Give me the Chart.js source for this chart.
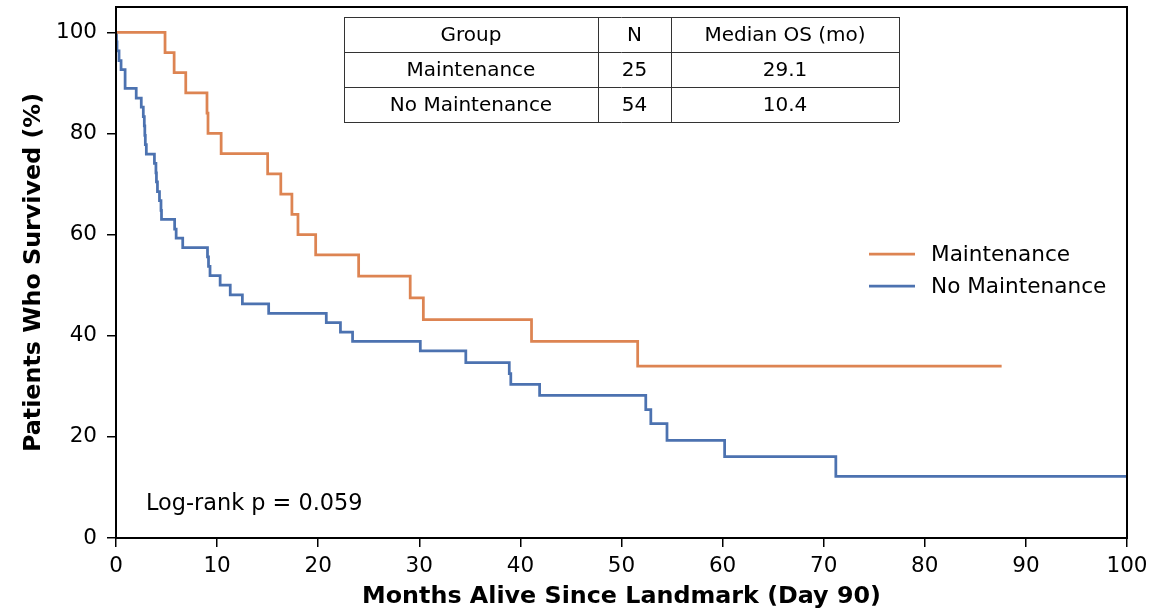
<!DOCTYPE html>
<html>
<head>
<meta charset="utf-8">
<script src="https://cdn.jsdelivr.net/npm/chart.js@4.4.1/dist/chart.umd.min.js"></script>
<style>
  html, body { margin: 0; padding: 0; background: #fff; }
  #wrap { width: 1175px; height: 611px; position: relative; }
</style>
</head>
<body>
<div id="wrap"><canvas id="kmChart"></canvas></div>
<script>
// Kaplan-Meier curves (months, % surviving)
const maintTimes = [0, 4.85, 5.75, 6.9, 9.0, 9.1, 10.4, 15.0, 16.3, 17.4, 18.0, 19.75, 24.0, 29.1, 30.4, 41.1, 51.6, 87.6];
const maintSurv  = [100, 96, 92, 88, 84, 80, 76, 72, 68, 64, 60, 56, 51.8, 47.5, 43.2, 38.9, 34.0, 34.0];

const noMaintTimes = [0, 0.05, 0.1, 0.3, 0.5, 0.9, 2.0, 2.5, 2.7, 2.8, 2.85, 2.9, 3.0, 3.8, 3.95, 4.0, 4.1, 4.3, 4.45, 4.5,
                      5.8, 5.95, 6.6, 9.05, 9.15, 9.3, 10.3, 11.3, 12.5, 15.1, 20.8, 22.2, 23.4, 30.1, 34.6, 38.9, 39.05,
                      41.9, 52.4, 52.9, 54.5, 60.2, 71.2, 100];
const noMaintSurv  = [100, 98.1, 96.3, 94.4, 92.6, 88.9, 87.0, 85.2, 83.3, 81.5, 79.6, 77.8, 75.9, 74.1, 72.2, 70.4, 68.5, 66.7, 64.8, 63.0,
                      61.1, 59.3, 57.4, 55.6, 53.7, 51.9, 50.0, 48.1, 46.3, 44.4, 42.6, 40.7, 38.9, 37.0, 34.7, 32.5, 30.4,
                      28.2, 25.4, 22.6, 19.3, 16.1, 12.2, 12.2];

const groupNames = ['Maintenance', 'No Maintenance'];
const groupN = ['25', '54'];
const medianOS = ['29.1', '10.4'];
const tableHeader = ['Group', 'N', 'Median OS (mo)'];
const yTicks = [0, 20, 40, 60, 80, 100];
const pValueText = 'Log-rank p = 0.059';

const colors = ['#DD8452', '#4C72B0'];
const FONT = '"DejaVu Sans", sans-serif';

function toPoints(times, surv) {
    return times.map((t, i) => ({ x: t, y: surv[i] }));
}

// frame, summary table, legend and p-value text
const overlayPlugin = {
    id: 'overlay',
    afterDraw(chart) {
        const ctx = chart.ctx;
        const a = chart.chartArea;
        ctx.save();

        // top / right spines
        ctx.strokeStyle = '#000';
        ctx.lineWidth = 2;
        ctx.strokeRect(a.left, a.top, a.right - a.left, a.bottom - a.top);

        // table
        const cols = [344, 598, 671, 899];
        const rows = [17, 52, 87, 122];
        ctx.fillStyle = '#fff';
        ctx.fillRect(cols[0], rows[0], cols[3] - cols[0], rows[3] - rows[0]);
        ctx.strokeStyle = '#333';
        ctx.lineWidth = 1;
        rows.forEach(r => {
            ctx.beginPath(); ctx.moveTo(cols[0], r + 0.5); ctx.lineTo(cols[3], r + 0.5); ctx.stroke();
        });
        cols.forEach(c => {
            ctx.beginPath(); ctx.moveTo(c + 0.5, rows[0]); ctx.lineTo(c + 0.5, rows[3]); ctx.stroke();
        });
        const cells = [tableHeader];
        groupNames.forEach((g, i) => cells.push([g, groupN[i], medianOS[i]]));
        ctx.fillStyle = '#000';
        ctx.font = '20px ' + FONT;
        ctx.textAlign = 'center';
        ctx.textBaseline = 'middle';
        cells.forEach((row, ri) => {
            row.forEach((txt, ci) => {
                ctx.fillText(txt, (cols[ci] + cols[ci + 1]) / 2, (rows[ri] + rows[ri + 1]) / 2 + 1);
            });
        });

        // legend
        ctx.font = '21.6px ' + FONT;
        ctx.textAlign = 'left';
        const legY = [254, 286];
        groupNames.forEach((g, i) => {
            ctx.strokeStyle = colors[i];
            ctx.lineWidth = 2.75;
            ctx.beginPath(); ctx.moveTo(869, legY[i]); ctx.lineTo(915, legY[i]); ctx.stroke();
            ctx.fillStyle = '#000';
            ctx.fillText(g, 931, legY[i] + 1);
        });

        // p-value
        ctx.font = '22.4px ' + FONT;
        ctx.fillText(pValueText, 146, 504);
        ctx.restore();
    }
};

const ctx = document.getElementById('kmChart').getContext('2d');
new Chart(ctx, {
    type: 'line',
    data: {
        datasets: [
            {
                label: groupNames[0],
                data: toPoints(maintTimes, maintSurv),
                borderColor: colors[0],
                backgroundColor: colors[0],
                borderWidth: 2.75,
                pointRadius: 0,
                stepped: true,
                fill: false
            },
            {
                label: groupNames[1],
                data: toPoints(noMaintTimes, noMaintSurv),
                borderColor: colors[1],
                backgroundColor: colors[1],
                borderWidth: 2.75,
                pointRadius: 0,
                stepped: true,
                fill: false
            }
        ]
    },
    options: {
        responsive: true,
        maintainAspectRatio: false,
        animation: false,
        layout: { padding: { top: 7, right: 48, left: 0, bottom: 0 } },
        plugins: {
            legend: { display: false },
            tooltip: { enabled: false }
        },
        scales: {
            x: {
                type: 'linear',
                min: 0,
                max: 100,
                afterFit: s => { s.height = 73; s.paddingLeft = 0; s.paddingRight = 0; },
                grid: { display: true, drawOnChartArea: false, drawTicks: true, tickLength: 9, color: '#000', lineWidth: 1.5 },
                border: { display: true, color: '#000', width: 2 },
                ticks: { stepSize: 10, color: '#000', padding: 7, font: { family: FONT, size: 21.5 } },
                title: {
                    display: true,
                    text: 'Months Alive Since Landmark (Day 90)',
                    color: '#000',
                    font: { family: FONT, size: 23.8, weight: 'bold' },
                    padding: { top: 0, bottom: 0 }
                }
            },
            y: {
                min: 0,
                max: 105,
                afterFit: s => { s.width = 116; s.paddingTop = 0; s.paddingBottom = 0; },
                afterBuildTicks: s => { s.ticks = yTicks.map(v => ({ value: v })); },
                grid: { display: true, drawOnChartArea: false, drawTicks: true, tickLength: 9, color: '#000', lineWidth: 1.5 },
                border: { display: true, color: '#000', width: 2 },
                ticks: { color: '#000', padding: 10, font: { family: FONT, size: 21.5 } },
                title: {
                    display: true,
                    text: 'Patients Who Survived (%)',
                    color: '#000',
                    font: { family: FONT, size: 23.8, weight: 'bold' },
                    padding: { top: 20, bottom: 0 }
                }
            }
        }
    },
    plugins: [overlayPlugin]
});
</script>
</body>
</html>
